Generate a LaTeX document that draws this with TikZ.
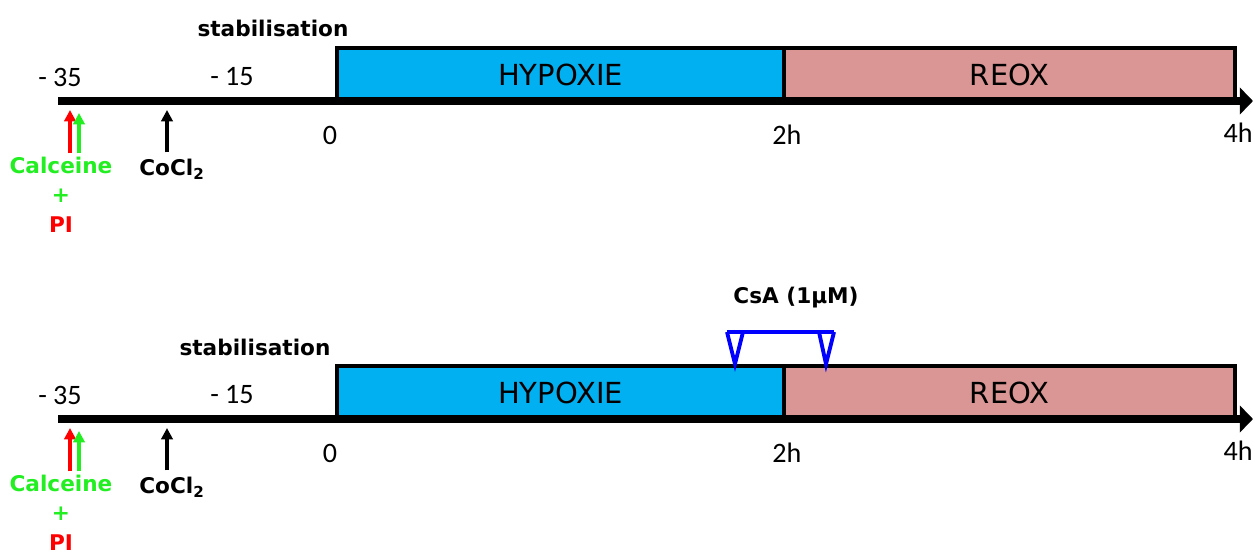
\documentclass[tikz,border=0pt]{standalone}
\usepackage{fontspec}
\setmainfont{Carlito}
\newfontfamily\comicfont{DejaVu Sans}
\usepackage{xcolor}
\usetikzlibrary{arrows.meta}
\definecolor{hypblue}{HTML}{00B0F0}
\definecolor{reoxpink}{HTML}{D99694}
\definecolor{calgreen}{HTML}{22EE22}

\begin{document}
\begin{tikzpicture}[x=0.02cm,y=-0.02cm,
    num/.style={font=\fontsize{16}{18}\selectfont,inner sep=0pt},
    lbl/.style={font=\comicfont\bfseries\fontsize{12.3}{14}\selectfont,inner sep=0pt},
    phase/.style={draw=black,line width=2.3pt,minimum height=1.06cm,inner sep=0pt,
                  font=\comicfont\fontsize{16.5}{18}\selectfont},
    hyp/.style={phase,fill=hypblue,minimum width=8.94cm},
    rx/.style={phase,fill=reoxpink,minimum width=9.02cm},
    axis/.style={line width=4.5pt,-{Triangle[length=7.5pt,width=15pt]}},
    add/.style={line width=2.1pt,-{Triangle[length=6.5pt,width=6.5pt]}},
    csa/.style={blue,line width=2.2pt,line join=miter}]
  \useasboundingbox (0,0) rectangle (1255,554);

  % first protocol
  \node[hyp] (hypA) at (560.5,74.5) {HYPOXIE};
  \node[rx] (reoxA) at (1009.5,74.5) {REOX};
  \coordinate (startA) at (58,101);
  \coordinate (endA) at (1253,101);
  \draw[axis] (startA) -- (endA);

  \node[lbl] (stabA) at (273,28) {stabilisation};
  \node[num] (m35A) at (60,77) {- 35};
  \node[num] (m15A) at (232,77) {- 15};
  \node[num] (t0A) at (330,135) {0};
  \node[num] (t2A) at (787,135) {2h};
  \node[num] (t4A) at (1238,133) {4h};

  \node[lbl,calgreen] (calA) at (61,165) {Calceine};
  \node[lbl,calgreen] (plusA) at (61,196) {+};
  \node[lbl,red] (piA) at (61,225) {PI};
  \node[lbl] (cocA) at (172,169) {CoCl\textsubscript{2}};

  \coordinate (redA) at (70,110);
  \coordinate (greenA) at (79,113);
  \coordinate (blackA) at (167,110);
  \draw[add,red] (redA |- calA.north) ++(0,-3) -- (redA);
  \draw[add,calgreen] (greenA |- calA.north) ++(0,-3) -- (greenA);
  \draw[add] (blackA |- cocA.north) ++(0,-6) -- (blackA);

  % second protocol, with CsA
  \node[hyp] (hypB) at (560.5,392.5) {HYPOXIE};
  \node[rx] (reoxB) at (1009.5,392.5) {REOX};
  \coordinate (startB) at (58,419);
  \coordinate (endB) at (1253,419);
  \draw[axis] (startB) -- (endB);

  \node[lbl] (stabB) at (255,347) {stabilisation};
  \node[num] (m35B) at (60,395) {- 35};
  \node[num] (m15B) at (232,395) {- 15};
  \node[num] (t0B) at (330,453) {0};
  \node[num] (t2B) at (787,453) {2h};
  \node[num] (t4B) at (1238,451) {4h};

  \node[lbl,calgreen] (calB) at (61,483) {Calceine};
  \node[lbl,calgreen] (plusB) at (61,514) {+};
  \node[lbl,red] (piB) at (61,543) {PI};
  \node[lbl] (cocB) at (172,487) {CoCl\textsubscript{2}};

  \coordinate (redB) at (70,428);
  \coordinate (greenB) at (79,431);
  \coordinate (blackB) at (167,428);
  \draw[add,red] (redB |- calB.north) ++(0,-3) -- (redB);
  \draw[add,calgreen] (greenB |- calB.north) ++(0,-3) -- (greenB);
  \draw[add] (blackB |- cocB.north) ++(0,-6) -- (blackB);

  \node[lbl] (csaB) at (796,298) {CsA (1μM)};
  \draw[csa] (727,332) -- (834,332);
  \draw[csa] (727,332) -- (735,364) -- (743,332);
  \draw[csa] (819,332) -- (826,364) -- (834,332);
\end{tikzpicture}
\end{document}
